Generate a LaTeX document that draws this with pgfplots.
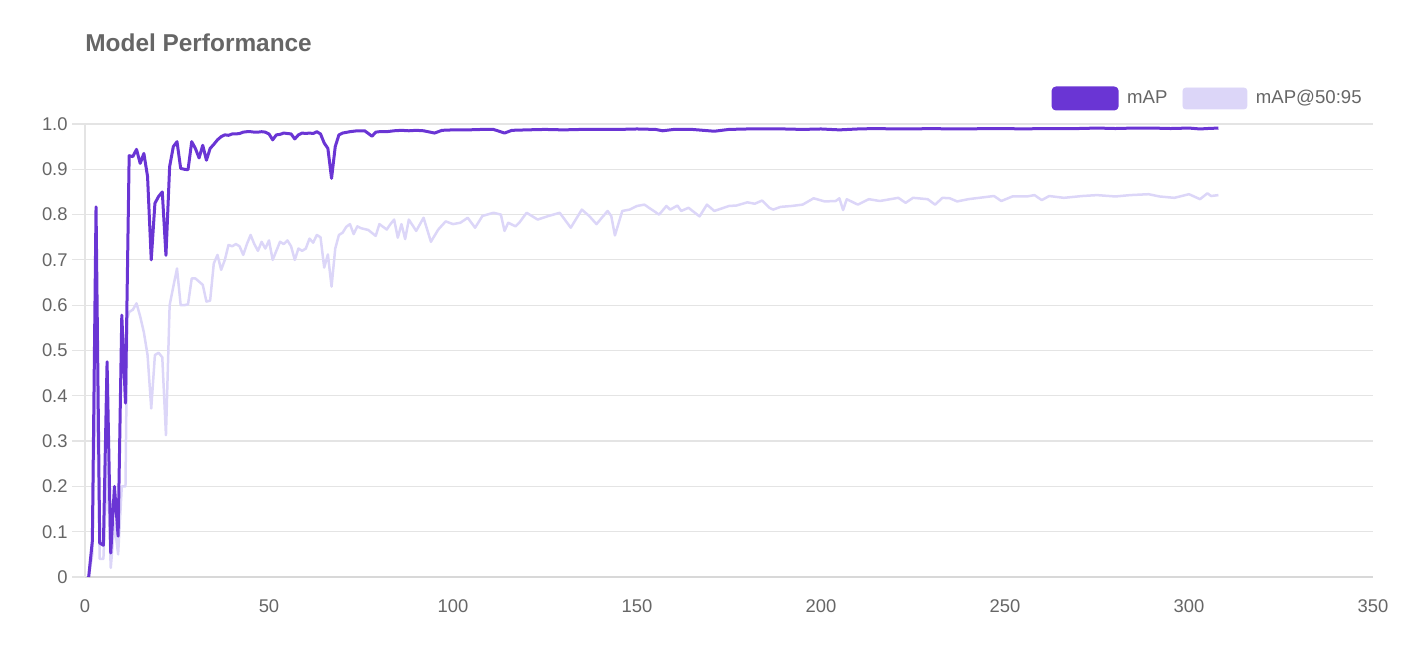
\documentclass[border=0pt]{standalone}
\usepackage{fontspec}
\setmainfont{Liberation Sans}
\usepackage{pgfplots}
\pgfplotsset{compat=1.18}
\definecolor{mapcol}{RGB}{106,53,212}
\definecolor{mapfcol}{RGB}{220,214,248}
\definecolor{gridcol}{RGB}{228,228,228}
\definecolor{axiscol}{RGB}{216,216,216}
\definecolor{txtcol}{RGB}{102,102,102}
\begin{document}
\begin{tikzpicture}
\useasboundingbox (0,0) rectangle (712pt,323pt);
\node[anchor=base west, inner sep=0pt, text=txtcol, font=\fontsize{12.2}{14}\selectfont\bfseries] at (42.5pt,297.15pt) {Model Performance};
\begin{axis}[
  at={(42.5pt,34.5pt)}, anchor=south west,
  scale only axis, width=644pt, height=226.5pt,
  xmin=0, xmax=350, ymin=0, ymax=1,
  xtick={0,50,100,150,200,250,300,350},
  ytick={0,0.1,0.2,0.3,0.4,0.5,0.6,0.7,0.8,0.9,1.0},
  yticklabels={0,0.1,0.2,0.3,0.4,0.5,0.6,0.7,0.8,0.9,1.0},
  /pgf/number format/assume math mode=true,
  ymajorgrids, grid style={gridcol, line width=0.6pt},
  axis x line*=bottom, axis y line*=left,
  x axis line style={axiscol, line width=0.8pt, -},
  y axis line style={gridcol, line width=0.6pt, -},
  xtick style={draw=none},
  ytick style={gridcol, line width=0.6pt},
  tick align=outside, major tick length=6.5pt,
  every tick label/.append style={font=\fontsize{9.2}{11}\selectfont, text=txtcol},
  xticklabel style={anchor=base, yshift=-11.35pt},
  yticklabel style={anchor=east, inner sep=0pt, xshift=-2pt},
  legend columns=2,
  legend style={at={(axis description cs:0.9946,1.0563)}, anchor=east, draw=none, fill=none,
    inner sep=0pt, font=\fontsize{9.3}{11}\selectfont, text=txtcol,
    /tikz/every odd column/.append style={column sep=2.3pt},
    /tikz/every even column/.append style={column sep=5.5pt}},
  legend image code/.code={\fill[#1, rounded corners=1.5pt] (0pt,-5.25pt) rectangle (32pt,5.25pt);},
  clip=false,
]
\addplot[color=mapfcol, line width=1.25pt, line join=round, forget plot] coordinates {
(1,0) (2,0.05) (3,0.5) (4,0.04) (5,0.04) (6,0.25) (7,0.02) (8,0.12) (9,0.05) (10,0.2) (11,0.2) (11.5,0.57) (12,0.585) (13,0.59) (14,0.604) (15,0.575) (16,0.54) (17,0.49) (18,0.372) (19,0.49) (20,0.495) (21,0.485) (22,0.313) (23,0.60) (24,0.641) (25,0.681) (26,0.60) (27,0.60) (28,0.602) (29,0.659) (30,0.659) (31,0.652) (32,0.645) (33,0.608) (34,0.61) (35,0.692) (36,0.711) (37,0.678) (38,0.70) (39,0.733) (40,0.73) (41,0.735) (42,0.73) (43,0.711) (44,0.735) (45,0.755) (46,0.735) (47,0.72) (48,0.74) (49,0.725) (50,0.743) (51,0.70) (52,0.72) (53,0.74) (54,0.735) (55,0.743) (56,0.73) (57,0.70) (58,0.725) (59,0.72) (60,0.725) (61,0.747) (62,0.738) (63,0.755) (64,0.75) (65,0.683) (66,0.712) (67,0.641) (68,0.725) (69,0.755) (70,0.76) (71,0.773) (72,0.779) (73,0.757) (74,0.774) (75,0.77) (77,0.766) (79,0.753) (80,0.779) (82,0.767) (83,0.779) (84,0.789) (85,0.749) (86,0.779) (87,0.746) (88,0.789) (90,0.764) (92,0.793) (94,0.74) (96,0.767) (98,0.785) (100,0.779) (102,0.782) (104,0.793) (106,0.771) (108,0.797) (111,0.804) (113,0.80) (114,0.764) (115,0.782) (117,0.774) (118,0.782) (120,0.804) (123,0.789) (126,0.797) (129,0.804) (132,0.771) (135,0.811) (137,0.797) (139,0.779) (142,0.808) (143,0.797) (144,0.754) (146,0.808) (148,0.811) (150,0.819) (152,0.822) (154,0.811) (156,0.80) (158,0.819) (159,0.811) (161,0.82) (162,0.808) (164,0.815) (167,0.796) (169,0.822) (171,0.808) (175,0.819) (177,0.82) (180,0.827) (182,0.824) (184,0.831) (186,0.815) (187,0.811) (189,0.817) (192,0.819) (195,0.822) (198,0.836) (201,0.829) (204,0.83) (205,0.836) (206,0.81) (207,0.834) (210,0.822) (213,0.834) (216,0.83) (221,0.837) (223,0.826) (225,0.837) (229,0.834) (231,0.822) (233,0.837) (235,0.836) (237,0.829) (240,0.834) (243,0.837) (247,0.841) (249,0.83) (252,0.84) (256,0.84) (258,0.843) (260,0.832) (262,0.841) (266,0.837) (271,0.841) (275,0.843) (280,0.84) (284,0.843) (289,0.845) (292,0.84) (296,0.837) (300,0.845) (303,0.834) (305,0.847) (306,0.841) (308,0.843)
};
\addplot[color=mapcol, line width=1.5pt, line join=round] coordinates {
(1,0) (2,0.08) (3,0.817) (4,0.075) (5,0.07) (6,0.475) (7,0.053) (8,0.2) (9,0.09) (10,0.578) (11,0.384) (12,0.93) (13,0.928) (14,0.944) (15,0.913) (16,0.935) (17,0.884) (18,0.70) (19,0.825) (20,0.84) (21,0.85) (22,0.71) (23,0.906) (24,0.95) (25,0.961) (26,0.902) (27,0.90) (28,0.899) (29,0.961) (30,0.946) (31,0.925) (32,0.953) (33,0.92) (34,0.946) (35,0.955) (36,0.965) (37,0.972) (38,0.976) (39,0.975) (40,0.978) (41,0.978) (42,0.979) (43,0.982) (44,0.983) (45,0.983) (46,0.982) (47,0.982) (48,0.983) (49,0.982) (50,0.978) (51,0.965) (52,0.976) (53,0.977) (54,0.98) (55,0.979) (56,0.978) (57,0.967) (58,0.976) (59,0.98) (60,0.979) (61,0.98) (62,0.979) (63,0.983) (64,0.978) (65,0.958) (66,0.946) (67,0.88) (68,0.95) (69,0.976) (70,0.98) (72,0.983) (74,0.985) (76,0.985) (78,0.973) (79,0.982) (80,0.983) (82,0.983) (84,0.985) (86,0.986) (88,0.985) (90,0.986) (92,0.985) (95,0.98) (97,0.986) (100,0.987) (104,0.987) (108,0.988) (111,0.988) (114,0.98) (116,0.986) (120,0.987) (125,0.988) (130,0.987) (135,0.988) (140,0.988) (145,0.988) (150,0.989) (155,0.988) (157,0.985) (160,0.988) (165,0.988) (171,0.984) (175,0.988) (180,0.989) (185,0.989) (190,0.989) (195,0.988) (200,0.989) (205,0.987) (210,0.989) (215,0.99) (220,0.989) (225,0.989) (230,0.99) (235,0.989) (240,0.989) (245,0.99) (250,0.99) (255,0.989) (260,0.99) (265,0.99) (270,0.99) (275,0.991) (280,0.99) (285,0.991) (290,0.991) (295,0.99) (300,0.991) (303,0.989) (305,0.99) (308,0.991)
};
\addlegendentry{mAP}
\addlegendimage{color=mapfcol}
\addlegendentry{mAP@50:95}
\end{axis}
\end{tikzpicture}
\end{document}
